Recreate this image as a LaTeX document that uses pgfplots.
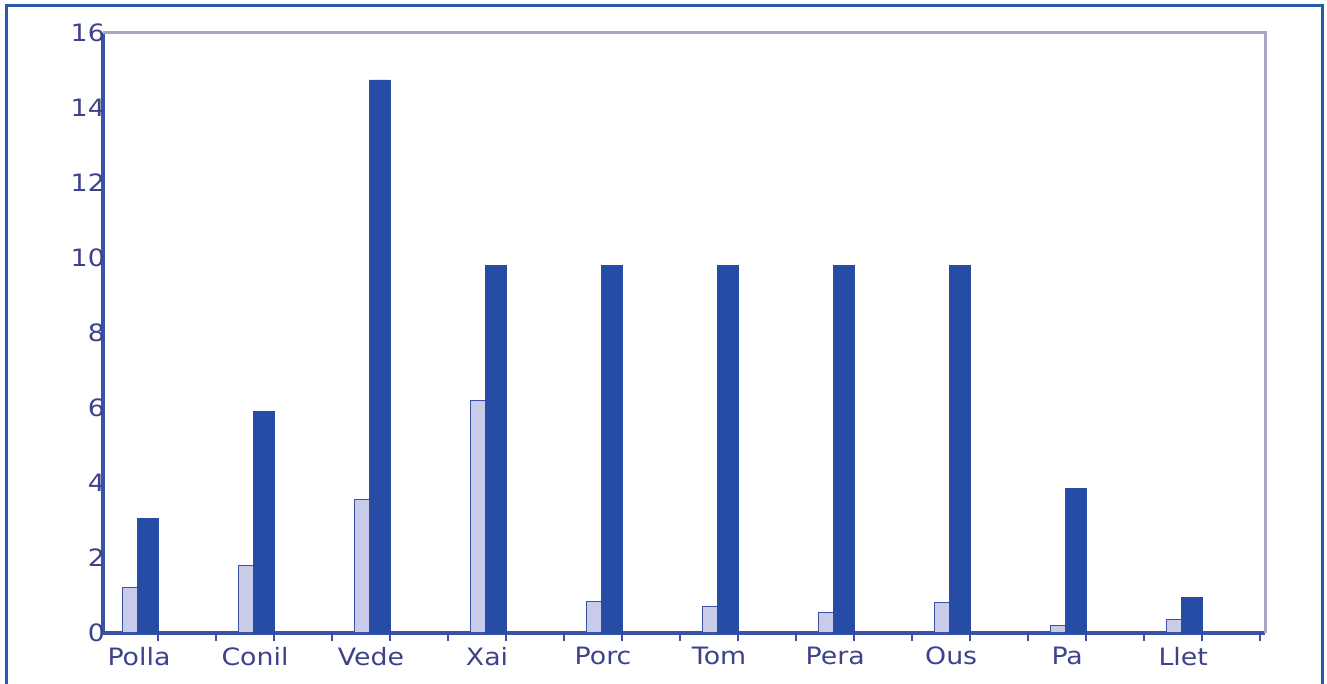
\documentclass[border=0pt]{standalone}
\usepackage{fontspec}
\setmainfont[FakeStretch=1.12]{DejaVu Sans}
\usepackage{pgfplots}
\usepackage{pgfplotstable}
\pgfplotsset{compat=1.18}
\definecolor{txtblue}{RGB}{62,66,140}
\definecolor{barblue}{RGB}{38,76,166}
\definecolor{lightbar}{RGB}{200,204,232}
\definecolor{axblue}{RGB}{58,82,165}
\definecolor{axgrey}{RGB}{165,165,196}
\definecolor{frameblue}{RGB}{40,90,170}

% x: group start (2 units per group), light and dark values
\pgfplotstableread{
x cat light dark
0  Polla 1.2  3.05
2  Conil 1.8  5.9
4  Vede  3.55 14.75
6  Xai   6.2  9.8
8  Porc  0.85 9.8
10 Tom   0.7  9.8
12 Pera  0.55 9.8
14 Ous   0.8  9.8
16 Pa    0.2  3.85
18 Llet  0.35 0.95
}\datatable

\begin{document}
\begin{tikzpicture}[x=1bp,y=1bp]
\useasboundingbox (0,0) rectangle (1327,683);
\draw[frameblue, line width=3bp] (6.5,-2) -- (6.5,677.5) -- (1322.5,677.5) -- (1322.5,-2);
\begin{axis}[
  at={(103bp,50bp)}, anchor=south west,
  scale only axis, width=1162bp, height=600bp,
  xmin=0, xmax=20.03, ymin=0, ymax=16,
  clip=false,
  axis x line*=bottom, axis y line*=left,
  axis line style={axblue, line width=3.5bp},
  major tick length=0pt,
  xtick={0.62,2.62,4.62,6.62,8.62,10.62,12.62,14.62,16.62,18.62},
  xticklabels={Polla,Conil,Vede,Xai,Porc,Tom,Pera,Ous,Pa,Llet},
  extra x ticks={0.95,1.95,2.95,3.95,4.95,5.95,6.95,7.95,8.95,9.95,10.95,11.95,12.95,13.95,14.95,15.95,16.95,17.95,18.95,19.95},
  extra x tick labels={},
  extra x tick style={major tick length=8bp, tick align=outside, major tick style={axblue, line width=2bp}},
  ytick={0,2,...,16},
  /pgf/number format/assume math mode=true,
  ticklabel style={font=\fontsize{24}{28}\selectfont, text=txtblue},
  xticklabel style={inner sep=0pt, yshift=-14bp},
  yticklabel style={inner sep=0pt, anchor=east, xshift=2bp},
]
\draw[axgrey, line width=3bp] (rel axis cs:0,1) -- (rel axis cs:1,1) -- (rel axis cs:1,0);
\addplot[ybar, bar width=0.26, bar shift=0pt, fill=lightbar, draw=axblue, line width=1bp]
  table[x expr=\thisrow{x}+0.46, y=light]{\datatable};
\addplot[ybar, bar width=0.36, bar shift=0pt, fill=barblue, draw=barblue, line width=0.5bp]
  table[x expr=\thisrow{x}+0.77, y=dark]{\datatable};
\end{axis}
\end{tikzpicture}
\end{document}
